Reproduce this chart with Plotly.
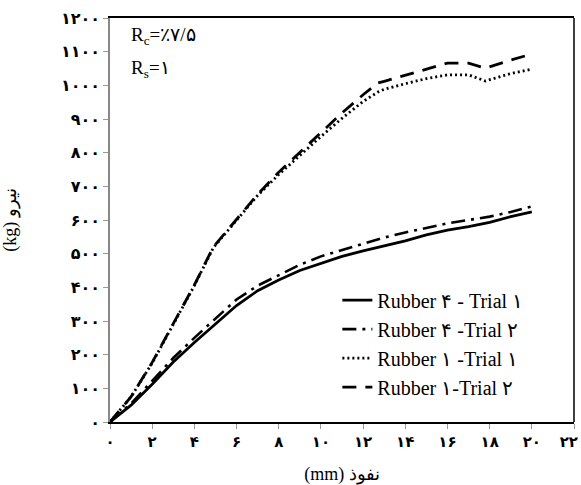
import plotly.graph_objects as go

# ---- data ----
x_r4t1 = [0, 1, 2, 3, 4, 5, 6, 7, 8, 9, 10, 11, 12, 13, 14, 15, 16, 17, 18, 19, 20]
y_r4t1 = [0, 50, 112, 178, 236, 292, 346, 390, 422, 450, 472, 492, 508, 522, 538, 556, 570, 580, 593, 610, 624]

x_r4t2 = [0, 1, 2, 3, 4, 5, 6, 7, 8, 9, 10, 11, 12, 13, 14, 15, 16, 17, 18, 19, 20]
y_r4t2 = [0, 55, 122, 190, 250, 308, 364, 405, 437, 467, 492, 510, 530, 548, 563, 577, 590, 600, 610, 624, 640]

x_r1t1 = [0, 1, 2, 3, 4, 4.9, 6, 7, 8, 9, 10, 11, 12, 12.7, 13, 14, 15, 16, 17, 17.8, 19, 20]
y_r1t1 = [0, 75, 175, 288, 405, 518, 598, 673, 735, 792, 848, 902, 952, 980, 988, 1005, 1020, 1031, 1031, 1013, 1035, 1048]

x_r1t2 = [0, 1, 2, 3, 4, 4.9, 6, 7, 8, 9, 10, 11, 12, 12.7, 13, 14, 15, 16, 17, 17.8, 19, 20]
y_r1t2 = [0, 75, 177, 290, 407, 520, 600, 676, 742, 800, 860, 918, 972, 1007, 1012, 1030, 1050, 1066, 1066, 1051, 1075, 1093]

names = ["Rubber ۴ - Trial ۱", "Rubber ۴ -Trial ۲", "Rubber ۱ -Trial ۱", "Rubber ۱-Trial ۲"]

x_ticks = [0, 2, 4, 6, 8, 10, 12, 14, 16, 18, 20, 22]
x_ticktext = ["۰", "۲", "۴", "۶", "۸", "۱۰", "۱۲", "۱۴", "۱۶", "۱۸", "۲۰", "۲۲\u00a0\u00a0"]
y_ticks = [0, 100, 200, 300, 400, 500, 600, 700, 800, 900, 1000, 1100, 1200]
y_ticktext = ["۰", "۱۰۰", "۲۰۰", "۳۰۰", "۴۰۰", "۵۰۰", "۶۰۰", "۷۰۰", "۸۰۰", "۹۰۰", "۱۰۰۰", "۱۱۰۰", "۱۲۰۰"]

x_title = "(mm) نفوذ"
y_title = "(kg) نیرو"

SERIF = "Liberation Serif"
DIGITS = "DejaVu Sans"

fig = go.Figure()
fig.add_trace(go.Scatter(x=x_r4t1, y=y_r4t1, name=names[0], mode="lines",
                         line=dict(color="black", width=2.8), legendgroup="a"))
fig.add_trace(go.Scatter(x=x_r4t2, y=y_r4t2, name=names[1], mode="lines",
                         line=dict(color="black", width=2.6, dash="14px,6px,3px,6px"), legendgroup="b"))
fig.add_trace(go.Scatter(x=x_r1t1, y=y_r1t1, name=names[2], mode="lines",
                         line=dict(color="black", width=2.8, dash="2px,3px"), legendgroup="c"))
fig.add_trace(go.Scatter(x=x_r1t2, y=y_r1t2, name=names[3], mode="lines",
                         line=dict(color="black", width=2.8, dash="14px,9px"), legendgroup="d"))

fig.update_layout(
    width=581, height=485,
    margin=dict(l=110, r=7, t=18, b=63, autoexpand=False),
    paper_bgcolor="white", plot_bgcolor="white",
    showlegend=True,
    legend=dict(x=0.49, y=0.35, xanchor="left", yanchor="top",
                font=dict(family=SERIF, size=20, color="black"),
                bgcolor="rgba(0,0,0,0)", tracegroupgap=0, itemwidth=30),
    xaxis=dict(range=[0, 22], tickvals=x_ticks, ticktext=x_ticktext, automargin=False,
               showgrid=False, zeroline=False, showline=True, linecolor="black", linewidth=1.5,
               mirror=True, ticks="outside", ticklen=5, tickcolor="#999",
               ticklabeloverflow="allow",
               tickfont=dict(family=DIGITS, size=15, color="black", weight="bold"),
               title=dict(text=x_title, font=dict(family=SERIF, size=18, color="black"), standoff=20)),
    yaxis=dict(range=[0, 1200], tickvals=y_ticks, ticktext=y_ticktext, automargin=False,
               showgrid=False, zeroline=False, showline=True, linecolor="#888", linewidth=1.5,
               ticks="outside", ticklen=5, tickcolor="#999",
               ticklabeloverflow="allow",
               tickfont=dict(family=DIGITS, size=16, color="black", weight="bold"),
               title=dict(text=y_title, font=dict(family=SERIF, size=18, color="black"), standoff=40)),
)

# right frame line
fig.add_shape(type="line", xref="paper", yref="paper", x0=1, x1=1, y0=0, y1=1,
              line=dict(color="black", width=1.5))

fig.add_annotation(xref="paper", yref="paper", x=0.04, y=0.955, xanchor="left", yanchor="middle",
                   text="R<sub>c</sub>=٪۷/۵", showarrow=False,
                   font=dict(family=SERIF, size=19, color="black"))
fig.add_annotation(xref="paper", yref="paper", x=0.04, y=0.875, xanchor="left", yanchor="middle",
                   text="R<sub>s</sub>=۱", showarrow=False,
                   font=dict(family=SERIF, size=19, color="black"))

fig.write_html("out.html")
